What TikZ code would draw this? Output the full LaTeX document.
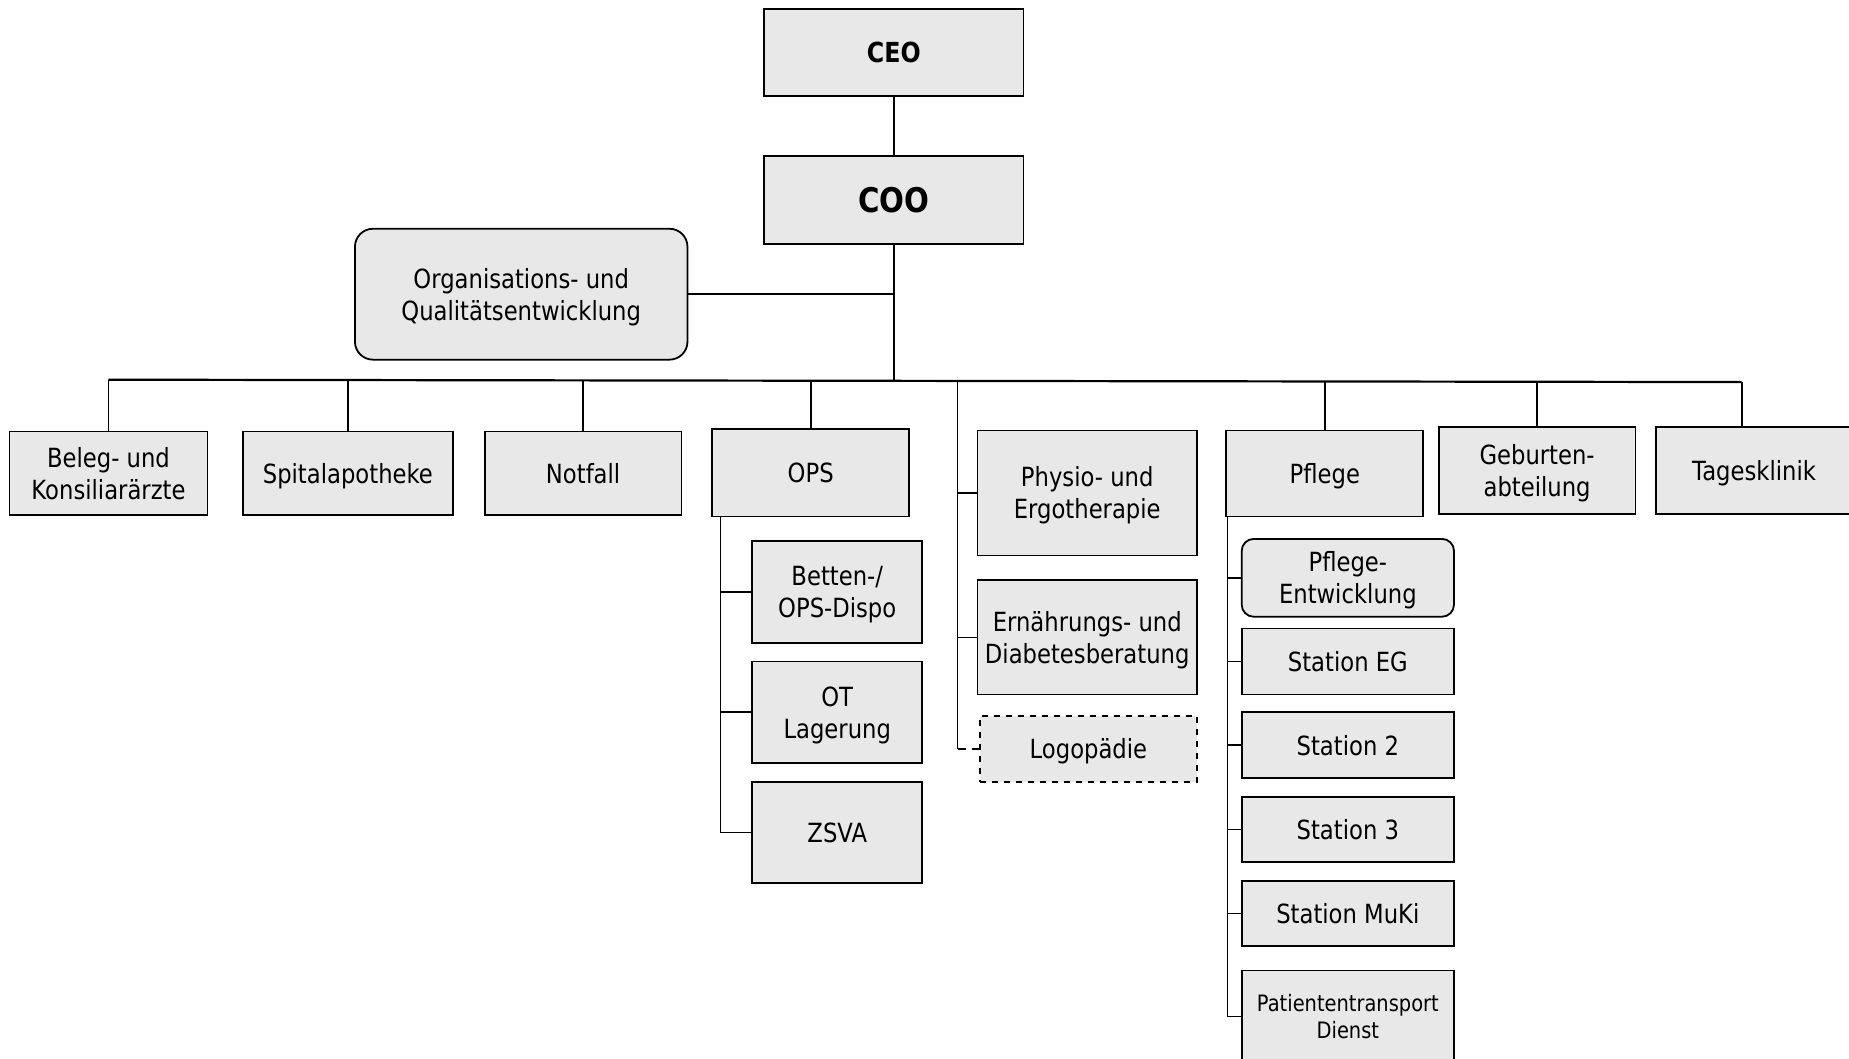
\documentclass[tikz,border=0pt]{standalone}
\usepackage{fontspec}
\setmainfont{DejaVu Sans}[FakeStretch=0.86]
\definecolor{boxgray}{RGB}{232,232,232}
\tikzset{
  bx/.style={draw=black, line width=0.9pt, fill=boxgray, text depth=0pt,
    inner sep=0pt, align=center, font=\fontsize{13.2}{16}\selectfont},
  bw/.style={minimum width=#1*0.5896pt},
  bh/.style={minimum height=#1*0.5896pt},
  conn/.style={draw=black, line width=0.8pt},
  busline/.style={draw=black, line width=1.1pt},
}
\begin{document}
\begin{tikzpicture}[x=0.5896pt, y=-0.5896pt]
\useasboundingbox (0,0) rectangle (1568,898);
\clip (0,0) rectangle (1568,898);
% top
\node[bx, bw=220, bh=74, font=\bfseries\fontsize{13.8}{16}\selectfont] (ceo) at (758,44.5) {CEO};
\node[bx, bw=220, bh=75, font=\bfseries\fontsize{17}{20}\selectfont] (coo) at (758,169.5) {COO};
\node[bx, bw=282, bh=111, rounded corners=9pt] (org) at (442,249.5) {Organisations- und\\Qualitätsentwicklung};
% bus
\coordinate (busL) at (92,322);
\coordinate (busR) at (1477,324);
\coordinate (busC) at (758,322.5);
\coordinate (pv) at (812,323);
% first level
\node[bx, bw=168, bh=71] (beleg) at (92,401.5) {Beleg- und\\Konsiliarärzte};
\node[bx, bw=178, bh=71] (spital) at (295,401.5) {Spitalapotheke};
\node[bx, bw=167, bh=71] (notfall) at (494.5,401.5) {Notfall};
\node[bx, bw=167, bh=74] (ops) at (687.5,401) {OPS};
\node[bx, bw=186, bh=106] (physio) at (922,418) {Physio- und\\Ergotherapie};
\node[bx, bw=186, bh=97] (ern) at (922,540.5) {Ernährungs- und\\Diabetesberatung};
\node[bx, bw=184, bh=56, dashed] (logo) at (923,635) {Logopädie};
\node[bx, bw=167, bh=73] (pflege) at (1123.5,401.5) {Pflege};
\node[bx, bw=167, bh=74] (geb) at (1303.5,399) {Geburten-\\abteilung};
\node[bx, bw=167, bh=74] (tages) at (1487.5,399) {Tagesklinik};
% OPS children
\node[bx, bw=144, bh=86] (betten) at (710,502) {Betten-/\\OPS-Dispo};
\node[bx, bw=144, bh=86] (ot) at (710,604) {OT\\Lagerung};
\node[bx, bw=144, bh=86] (zsva) at (710,706) {ZSVA};
% Pflege children
\node[bx, bw=180, bh=66, rounded corners=6pt] (pent) at (1143,490) {Pflege-\\Entwicklung};
\node[bx, bw=180, bh=56] (sEG) at (1143,561) {Station EG};
\node[bx, bw=180, bh=56] (s2) at (1143,632) {Station 2};
\node[bx, bw=180, bh=55] (s3) at (1143,703.5) {Station 3};
\node[bx, bw=180, bh=55] (smk) at (1143,774.5) {Station MuKi};
\node[bx, bw=180, bh=78, font=\fontsize{11.3}{13.5}\selectfont] (ptd) at (1143,862) {Patiententransport\\Dienst};
% connectors
\draw[conn] (ceo) -- (coo);
\draw[conn] (coo.south) -- (busC);
\draw[conn] (org.east) -- (org.east -| coo.south);
\draw[busline] (busL) -- (busR);
\draw[conn] (busL) -- (beleg.north);
\draw[conn] (spital.north |- busL) -- (spital.north);
\draw[conn] (notfall.north |- busL) -- (notfall.north);
\draw[conn] (ops.north |- busL) -- (ops.north);
\draw[conn] (pflege.north |- busR) -- (pflege.north);
\draw[conn] (geb.north |- busR) -- (geb.north);
\draw[conn] (busR) -- (busR |- tages.north);
% physio group
\coordinate (pvEnd) at (pv |- logo.west);
\draw[conn] (pv) -- (pvEnd);
\draw[conn] (pv |- physio.west) -- (physio.west);
\draw[conn] (pv |- ern.west) -- (ern.west);
\draw[conn, dash pattern=on 4pt off 3pt] (pvEnd) -- (logo.west);
% OPS group
\coordinate (ov) at (611,438);
\draw[conn] (ov) -- (ov |- zsva.west) -- (zsva.west);
\draw[conn] (ov |- betten.west) -- (betten.west);
\draw[conn] (ov |- ot.west) -- (ot.west);
% Pflege group
\coordinate (fv) at (1041,438);
\draw[conn] (fv) -- (fv |- ptd.west) -- (ptd.west);
\foreach \n in {pent,sEG,s2,s3,smk}{
  \draw[conn] (fv |- \n.west) -- (\n.west);
}
\end{tikzpicture}
\end{document}
